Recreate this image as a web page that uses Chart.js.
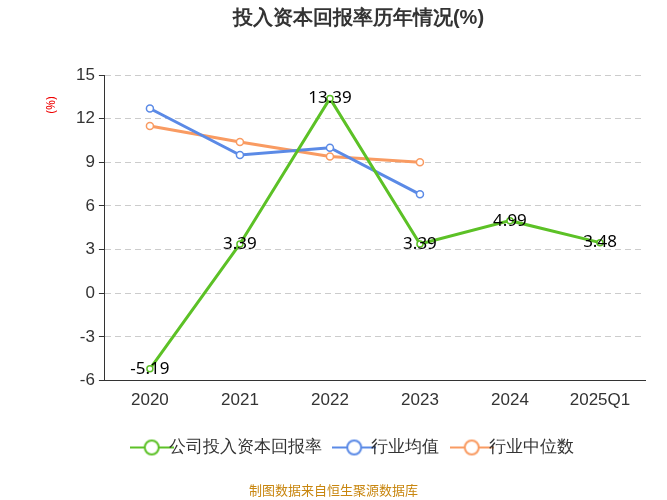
<!DOCTYPE html>
<html>
<head>
<meta charset="utf-8">
<script src="https://cdn.jsdelivr.net/npm/chart.js@4/dist/chart.umd.min.js"></script>
<style>
  body { margin: 0; background: #fff; font-family: "Noto Sans CJK SC", "Noto Sans", sans-serif; }
  #wrap { position: relative; width: 667px; height: 500px; }
  #footer { position: absolute; left: 0; width: 667px; top: 480px; text-align: center; font-size: 13px; color: #c8860f; }
</style>
</head>
<body>
<div id="wrap">
  <canvas id="line-chart" width="667" height="500"></canvas>
  <div id="footer">制图数据来自恒生聚源数据库</div>
</div>
<script>
var years = ['2020', '2021', '2022', '2023', '2024', '2025Q1'];
var companyRoic = [-5.19, 3.39, 13.39, 3.39, 4.99, 3.48];
var industryAvg = [12.7, 9.5, 10.0, 6.8, null, null];
var industryMedian = [11.5, 10.4, 9.4, 9.0, null, null];
var yTicks = [15, 12, 9, 6, 3, 0, -3, -6];
var colors = ['#5cc126', '#5b8ae6', '#f99b62'];

// legend symbol: line with hollow circle
function legendIcon(color) {
    var c = document.createElement('canvas');
    c.width = 44; c.height = 18;
    var g = c.getContext('2d');
    g.strokeStyle = color;
    g.lineWidth = 2;
    g.beginPath(); g.moveTo(0, 9); g.lineTo(44, 9); g.stroke();
    g.fillStyle = '#fff';
    g.beginPath(); g.arc(22, 9, 7, 0, Math.PI * 2); g.fill(); g.stroke();
    return c;
}

var valueLabels = {
    id: 'valueLabels',
    afterDatasetsDraw: function (chart) {
        var ctx = chart.ctx;
        var meta = chart.getDatasetMeta(0);
        ctx.save();
        ctx.font = '17px "Noto Sans", sans-serif';
        ctx.fillStyle = '#000';
        ctx.textAlign = 'center';
        ctx.textBaseline = 'middle';
        meta.data.forEach(function (pt, i) {
            ctx.fillText(companyRoic[i].toFixed(2), pt.x, pt.y);
        });
        ctx.restore();
    }
};

var unitLabel = {
    id: 'unitLabel',
    afterDraw: function (chart) {
        var ctx = chart.ctx;
        ctx.save();
        ctx.translate(52, 105);
        ctx.rotate(-Math.PI / 2);
        ctx.font = '12px "Noto Sans", sans-serif';
        ctx.fillStyle = '#e00';
        ctx.textAlign = 'center';
        ctx.textBaseline = 'middle';
        ctx.fillText('(%)', 0, 0);
        ctx.restore();
    }
};

var ctx1 = document.getElementById('line-chart');
new Chart(ctx1.getContext('2d'), {
    type: 'line',
    data: {
        labels: years,
        datasets: [{
            label: '公司投入资本回报率',
            data: companyRoic,
            borderColor: colors[0],
            backgroundColor: '#fff',
            borderWidth: 3,
            pointRadius: 3,
            pointBorderWidth: 1.5,
            pointStyle: 'circle',
            tension: 0
        }, {
            label: '行业均值',
            data: industryAvg,
            borderColor: colors[1],
            backgroundColor: '#fff',
            borderWidth: 3,
            pointRadius: 3.5,
            pointBorderWidth: 1.5,
            tension: 0
        }, {
            label: '行业中位数',
            data: industryMedian,
            borderColor: colors[2],
            backgroundColor: '#fff',
            borderWidth: 3,
            pointRadius: 3.5,
            pointBorderWidth: 1.5,
            tension: 0
        }]
    },
    options: {
        responsive: false,
        animation: false,
        layout: { padding: { left: 72, right: 22, top: 0, bottom: 34 } },
        scales: {
            x: {
                offset: true,
                grid: { display: false, drawTicks: true, tickLength: 6, tickColor: '#333' },
                border: { color: '#333' },
                ticks: { color: '#333', font: { size: 17 }, padding: 4 }
            },
            y: {
                min: -6,
                max: 15,
                afterBuildTicks: function (axis) {
                    axis.ticks = yTicks.map(function (v) { return { value: v }; });
                },
                grid: { color: '#ccc', tickColor: '#333', tickLength: 6, lineWidth: 1 },
                border: { color: '#333', dash: [6, 4] },
                ticks: { color: '#333', font: { size: 17 }, padding: 4 }
            }
        },
        plugins: {
            title: {
                display: true,
                text: '投入资本回报率历年情况(%)',
                font: { size: 20, weight: 'bold' },
                color: '#333',
                padding: { top: 6, bottom: 45 }
            },
            legend: {
                position: 'bottom',
                labels: {
                    usePointStyle: true,
                    color: '#333',
                    font: { size: 17 },
                    padding: 24,
                    generateLabels: function (chart) {
                        return chart.data.datasets.map(function (ds, i) {
                            return {
                                text: ds.label,
                                pointStyle: legendIcon(colors[i]),
                                fontColor: '#333',
                                datasetIndex: i
                            };
                        });
                    }
                }
            },
            tooltip: { enabled: false }
        }
    },
    plugins: [valueLabels, unitLabel]
});
</script>
</body>
</html>
